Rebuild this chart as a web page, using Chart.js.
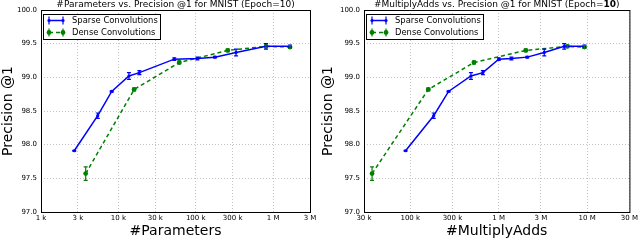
<!DOCTYPE html>
<html>
<head>
<meta charset="utf-8">
<script src="https://cdn.jsdelivr.net/npm/chart.js@4/dist/chart.umd.min.js"></script>
<style>
  html, body { margin:0; padding:0; background:#fff; }
  .wrap { display:flex; width:640px; height:240px; }
  canvas { display:block; }
</style>
</head>
<body>
<div class="wrap">
  <canvas id="paramChart" width="320" height="240"></canvas>
  <canvas id="madsChart" width="320" height="240"></canvas>
</div>
<script>
// values
const sparseParams = [2.69e3, 5.41e3, 8.2e3, 13.7e3, 18.7e3, 52.8e3, 105e3, 177e3, 332e3, 810e3, 1.655e6];
const denseParams  = [3.78e3, 16.0e3, 61.3e3, 259e3, 810e3, 1.655e6];
const sparseMAdds  = [88.5e3, 184e3, 271e3, 485e3, 662e3, 1.0e6, 1.39e6, 2.1e6, 3.27e6, 5.5e6, 9.3e6];
const denseMAdds   = [37e3, 160e3, 525e3, 2.02e6, 5.97e6, 9.3e6];

const sparsePrec = [97.91, 98.43, 98.79, 99.02, 99.07, 99.27, 99.28, 99.30, 99.37, 99.46, 99.46];
const sparseErr  = [0.005, 0.04, 0.01, 0.05, 0.03, 0.02, 0.02, 0.01, 0.05, 0.04, 0.02];
const densePrec  = [97.57, 98.82, 99.22, 99.40, 99.46, 99.45];
const denseErr   = [0.10, 0.02, 0.02, 0.02, 0.02, 0.02];

const paramTicks = [1e3, 3e3, 1e4, 3e4, 1e5, 3e5, 1e6, 3e6];
const paramTickLabels = ['1 k', '3 k', '10 k', '30 k', '100 k', '300 k', '1 M', '3 M'];
const maddTicks = [3e4, 1e5, 3e5, 1e6, 3e6, 1e7, 3e7];
const maddTickLabels = ['30 k', '100 k', '300 k', '1 M', '3 M', '10 M', '30 M'];

const seriesNames = ['Sparse Convolutions', 'Dense Convolutions'];
const BLUE = '#0000ff', GREEN = '#008000';
const FONT = "'DejaVu Sans', sans-serif";

const toPts = (xs, ys) => xs.map((x, i) => ({x, y: ys[i]}));

// error bars, plot frame, title and legend
const extras = {
  id: 'extras',
  afterDatasetsDraw(chart) {
    const {ctx, scales: {x, y}} = chart;
    chart.data.datasets.forEach(ds => {
      ctx.save();
      ctx.strokeStyle = ds.borderColor;
      ctx.lineWidth = 1.2;
      ds.data.forEach((p, i) => {
        const e = ds.errs[i];
        const px = x.getPixelForValue(p.x);
        const y1 = y.getPixelForValue(p.y - e), y2 = y.getPixelForValue(p.y + e);
        ctx.beginPath();
        ctx.moveTo(px, y1); ctx.lineTo(px, y2);
        ctx.moveTo(px - 2, y1); ctx.lineTo(px + 2, y1);
        ctx.moveTo(px - 2, y2); ctx.lineTo(px + 2, y2);
        ctx.stroke();
      });
      ctx.restore();
    });
  },
  afterDraw(chart, args, opts) {
    const {ctx, chartArea: a} = chart;
    ctx.save();
    ctx.strokeStyle = '#000';
    ctx.lineWidth = 1;
    ctx.strokeRect(a.left + 0.5, a.top + 0.5, a.right - a.left, a.bottom - a.top);

    // title, with optional bold parts
    ctx.textBaseline = 'middle';
    let total = 0;
    opts.title.forEach(([t, b]) => { ctx.font = `${b ? 'bold ' : ''}9px ${FONT}`; total += ctx.measureText(t).width; });
    let tx = (a.left + a.right) / 2 - total / 2;
    ctx.fillStyle = '#000';
    ctx.textAlign = 'left';
    opts.title.forEach(([t, b]) => {
      ctx.font = `${b ? 'bold ' : ''}9px ${FONT}`;
      ctx.fillText(t, tx, 5);
      tx += ctx.measureText(t).width;
    });

    // legend
    const bx = a.left + 2.5, by = 14.5, bw = 117, bh = 25;
    ctx.fillStyle = '#fff';
    ctx.fillRect(bx, by, bw, bh);
    ctx.strokeStyle = '#000';
    ctx.strokeRect(bx, by, bw, bh);
    chart.data.datasets.forEach((ds, i) => {
      const ly = 20.5 + i * 12;
      const x1 = a.left + 8, x2 = a.left + 22;
      ctx.strokeStyle = ds.borderColor;
      ctx.lineWidth = 1.5;
      ctx.setLineDash(ds.borderDash || []);
      ctx.beginPath(); ctx.moveTo(x1, ly); ctx.lineTo(x2, ly); ctx.stroke();
      ctx.setLineDash([]);
      ctx.lineWidth = 1.2;
      [x1, x2].forEach(px => {
        ctx.beginPath();
        ctx.moveTo(px, ly - 4); ctx.lineTo(px, ly + 4);
        ctx.stroke();
        ctx.fillStyle = ds.borderColor;
        ctx.beginPath(); ctx.arc(px, ly, ds.pointRadius, 0, Math.PI * 2); ctx.fill();
      });
      ctx.fillStyle = '#000';
      ctx.font = `8.4px ${FONT}`;
      ctx.textAlign = 'left';
      ctx.fillText(ds.label, a.left + 31, ly);
    });
    ctx.restore();
  }
};

function makeChart(id, cfg) {
  new Chart(document.getElementById(id), {
    type: 'line',
    data: {
      datasets: [
        {label: seriesNames[0], data: toPts(cfg.sx, sparsePrec), errs: sparseErr,
         borderColor: BLUE, backgroundColor: BLUE, borderWidth: 1.5, pointRadius: 1.6, pointBorderWidth: 0, tension: 0},
        {label: seriesNames[1], data: toPts(cfg.dx, densePrec), errs: denseErr,
         borderColor: GREEN, backgroundColor: GREEN, borderWidth: 1.5, borderDash: [4, 3], pointRadius: 2.4, pointBorderWidth: 0, tension: 0}
      ]
    },
    options: {
      responsive: false,
      animation: false,
      layout: {padding: {top: 10, right: cfg.padRight, bottom: 0, left: 0}},
      plugins: {legend: {display: false}, tooltip: {enabled: false}, title: {display: false},
                extras: {title: cfg.title}},
      scales: {
        x: {
          type: 'logarithmic', min: cfg.ticks[0], max: cfg.ticks[cfg.ticks.length - 1],
          afterBuildTicks: s => { s.ticks = cfg.ticks.map(v => ({value: v})); },
          afterFit: s => { s.height = 28; },
          grid: {color: 'rgba(0,0,0,0.4)', lineWidth: 0.6, drawTicks: false},
          border: {display: false, dash: [1, 2]},
          ticks: {font: {family: FONT, size: 7}, color: '#000', padding: 2, maxRotation: 0, autoSkip: false,
                  callback: (v, i) => cfg.labels[i]},
          title: {display: true, text: cfg.xTitle, font: {family: FONT, size: 14}, color: '#000', padding: 0}
        },
        y: {
          min: 97, max: 100,
          afterFit: s => { s.width = cfg.yWidth; },
          grid: {color: 'rgba(0,0,0,0.4)', lineWidth: 0.6, drawTicks: false},
          border: {display: false, dash: [1, 2]},
          ticks: {stepSize: 0.5, font: {family: FONT, size: 7}, color: '#000', padding: 4,
                  callback: v => v.toFixed(1)},
          title: {display: true, text: 'Precision @1', font: {family: FONT, size: 14}, color: '#000', padding: 0}
        }
      }
    },
    plugins: [extras]
  });
}

makeChart('paramChart', {
  sx: sparseParams, dx: denseParams, ticks: paramTicks, labels: paramTickLabels,
  xTitle: '#Parameters', yWidth: 41, padRight: 10,
  title: [['#Parameters vs. Precision @1 for MNIST (Epoch=10)', false]]
});
makeChart('madsChart', {
  sx: sparseMAdds, dx: denseMAdds, ticks: maddTicks, labels: maddTickLabels,
  xTitle: '#MultiplyAdds', yWidth: 44, padRight: 8,
  title: [['#MultiplyAdds vs. Precision @1 for MNIST (Epoch=', false], ['10', true], [')', false]]
});
</script>
</body>
</html>
